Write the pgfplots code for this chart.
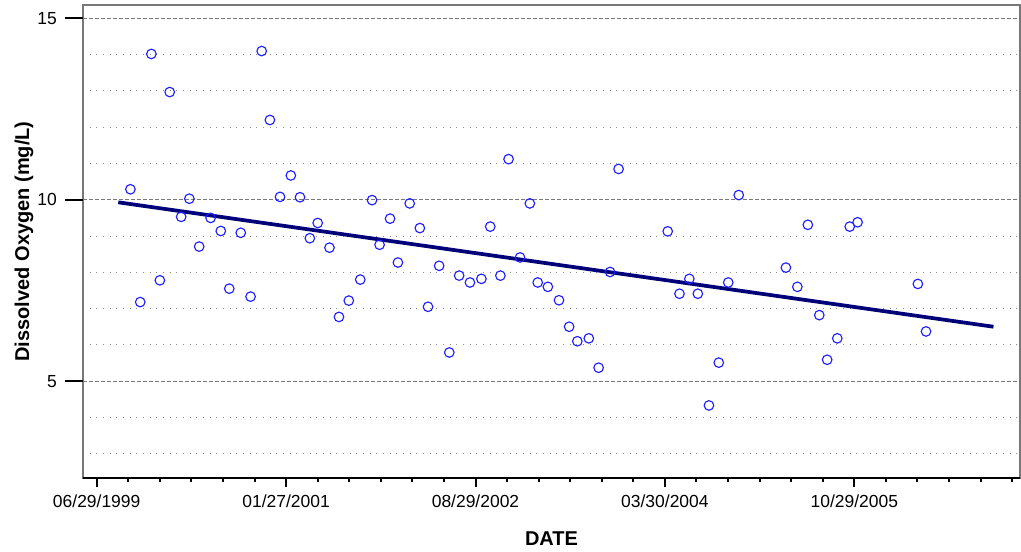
\documentclass[border=0pt]{standalone}
\usepackage{fontspec}
\setmainfont{Liberation Sans}
\usepackage{pgfplots}
\pgfplotsset{compat=1.18}

% x = days since 06/29/1999
\pgfplotstableread{
x y
103 10.29
133 7.18
167 14.02
193 7.78
223 12.97
258 9.53
283 10.03
313 8.71
348 9.50
379 9.14
405 7.55
440 9.09
470 7.33
504 14.10
529 12.20
560 10.08
593 10.67
621 10.07
651 8.94
675 9.36
711 8.68
740 6.77
770 7.22
805 7.80
841 9.99
864 8.76
896 9.48
920 8.27
956 9.90
987 9.22
1012 7.05
1046 8.18
1077 5.79
1107 7.91
1140 7.72
1175 7.82
1202 9.26
1233 7.91
1258 11.12
1293 8.41
1323 9.90
1347 7.72
1378 7.60
1412 7.23
1443 6.50
1468 6.10
1503 6.18
1533 5.37
1568 8.01
1594 10.85
1744 9.13
1780 7.41
1810 7.82
1836 7.41
1870 4.33
1900 5.51
1929 7.72
1961 10.13
2105 8.13
2140 7.60
2172 9.31
2207 6.82
2231 5.59
2262 6.18
2300 9.26
2324 9.38
2508 7.68
2533 6.37
}\dodata

\definecolor{ptblue}{RGB}{30,30,255}
\definecolor{fitnavy}{RGB}{0,0,120}
\definecolor{framegray}{RGB}{120,120,120}

\begin{document}
\begin{tikzpicture}
\begin{axis}[
    scale only axis,
    width=702.75pt, height=354.75pt,
    xmin=-41.8, xmax=2820,
    ymin=2.33, ymax=15.37,
    xtick={0,578.5,1157,1735.5,2314},
    xticklabels={06/29/1999,01/27/2001,08/29/2002,03/30/2004,10/29/2005},
    minor xtick={0,96.417,...,2800},
    ytick={5,10,15},
    yticklabels={5,10,15},
    minor ytick={3,4,6,7,8,9,11,12,13,14},
    tick pos=left,
    tick align=outside,
    major tick length=6.75pt,
    minor tick length=3pt,
    every tick/.style={black, line width=1.5pt},
    minor y tick style={draw=none},
    ymajorgrids, yminorgrids,
    major grid style={framegray, dash pattern=on 3pt off 1.5pt, line width=0.75pt},
    minor grid style={black!45, dash pattern=on 0.75pt off 4.25pt, line width=0.75pt},
    axis line style={framegray, line width=1.1pt},
    extra y ticks={5,10,15},
    extra y tick labels={},
    extra y tick style={major tick length=13.5pt, grid=none},
    tick label style={font=\fontsize{13.1}{15}\selectfont, inner sep=0pt},
    yticklabel style={xshift=-12.75pt},
    xticklabel style={yshift=-6pt},
    xlabel={DATE},
    ylabel={Dissolved Oxygen (mg/L)},
    label style={font=\fontsize{15}{18}\selectfont\bfseries, inner sep=0pt},
    xlabel style={at={(axis description cs:0.5,0)}, anchor=north, yshift=-40.3pt},
    ylabel style={at={(axis description cs:-0.0576,0.5)}, anchor=base},
    clip=false,
]
\addplot[only marks, mark=o, mark size=3.6pt, color=ptblue,
         mark options={line width=0.85pt}] table[x=x, y=y] {\dodata};
\addplot[fitnavy, line width=2.8pt] coordinates {(66,9.93) (2739,6.50)};
\draw[black, line width=1.1pt] (rel axis cs:0,0) -- (rel axis cs:1,0);
\end{axis}
\pgfresetboundingbox
\path ([shift={(-62.25pt,-55.5pt)}]current axis.south west)
      rectangle ([shift={(0.75pt,3.75pt)}]current axis.north east);
\end{tikzpicture}
\end{document}
